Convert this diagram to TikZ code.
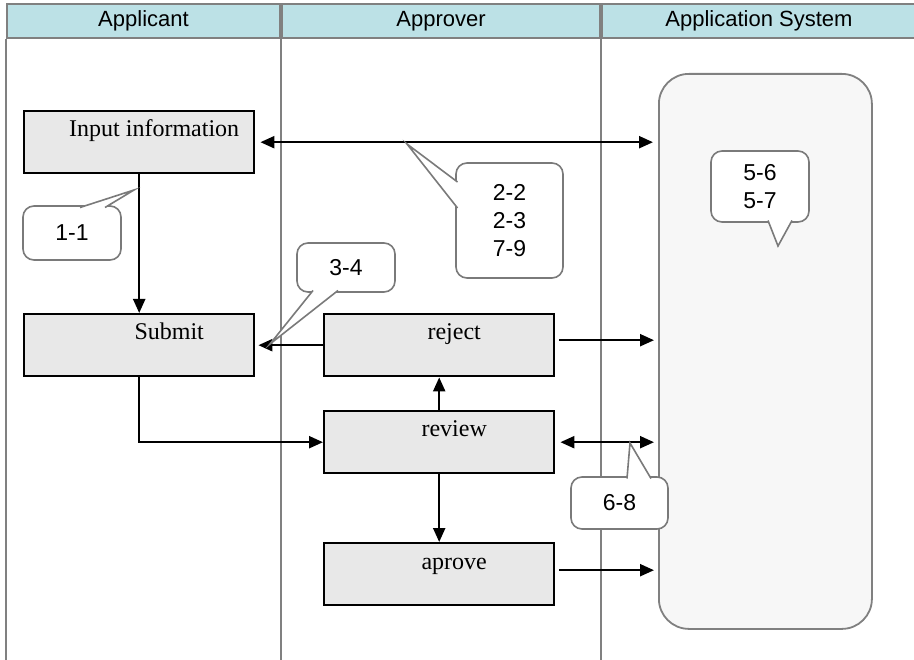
\documentclass[tikz,border=0pt]{standalone}
\usepackage{fontspec}
\setmainfont{Liberation Serif}
\setsansfont{Liberation Sans}
\usetikzlibrary{arrows.meta}
\definecolor{lanegray}{HTML}{808080}
\definecolor{headblue}{HTML}{BCE1E6}
\definecolor{taskgray}{HTML}{E8E8E8}
\definecolor{sysgray}{HTML}{F7F7F7}
\definecolor{notegray}{HTML}{7A7A7A}
\tikzset{
	lane/.style={draw=lanegray, line width=2pt},
	head/.style={lane, fill=headblue, anchor=north west, minimum height=34pt, inner sep=0pt, font=\sffamily\fontsize{22}{26}\selectfont},
	task/.style={draw=black, line width=2.4pt, fill=taskgray, anchor=north west, minimum width=230pt, minimum height=62pt, inner sep=0pt},
	tasktext/.style={anchor=base, font=\fontsize{24}{28}\selectfont},
	link/.style={-{Triangle[length=14pt,width=12pt]}, line width=2.2pt},
	twolink/.style={{Triangle[length=14pt,width=12pt]}-{Triangle[length=14pt,width=12pt]}, line width=2.2pt},
	note/.style={draw=notegray, line width=1.6pt, fill=white, rounded corners=11pt, inner sep=0pt, align=center, font=\sffamily\fontsize{23}{28}\selectfont},
	pointer/.style={draw=notegray, line width=1.6pt, fill=white}
}
\begin{document}
\begin{tikzpicture}[x=1pt, y=-1pt]
	\useasboundingbox[fill=white] (0,0) rectangle (914,660);

	\node[head, minimum width=273pt] (hApp) at (6,3) {Applicant};
	\node[head, minimum width=318pt] (hApr) at (hApp.north east) {Approver};
	\node[head, minimum width=314pt] (hSys) at (hApr.north east) {Application System};
	\draw[lane] (hApp.south west) -- ++(0,623);
	\draw[lane] (hApr.south west) -- ++(0,623);
	\draw[lane] (hSys.south west) -- ++(0,623);
	\draw[lane] (hSys.south east) -- ++(0,623);

	\node[draw=lanegray, line width=1.8pt, fill=sysgray, rounded corners=30pt, anchor=north west, minimum width=213pt, minimum height=555pt] (sys) at (658,73) {};

	\node[task, label={[tasktext, xshift=15pt, yshift=-27pt]north:Input information}] (info) at (23,110) {};
	\node[task, label={[tasktext, xshift=30pt, yshift=-27pt]north:Submit}] (submit) at (23,313) {};
	\node[task, label={[tasktext, xshift=15pt, yshift=-27pt]north:reject}] (reject) at (323,313) {};
	\node[task, label={[tasktext, xshift=15pt, yshift=-27pt]north:review}] (review) at (323,410) {};
	\node[task, label={[tasktext, xshift=15pt, yshift=-27pt]north:aprove}] (aprove) at (323,542) {};

	\draw[twolink, shorten <=5pt, shorten >=5pt] (info.east) -- (info.east -| sys.west);
	\draw[link] (info) -- (submit);
	\draw[link, shorten >=3pt] (reject.west) -- (reject.west -| submit.east);
	\draw[link, shorten <=4pt, shorten >=4pt] ([yshift=5pt]reject.east) -- ([yshift=5pt]reject.east -| sys.west);
	\draw[link] (review) -- (reject);
	\draw[link] (submit.south) |- (review.west);
	\draw[twolink, shorten <=5pt, shorten >=4pt] (review.east) -- (review.east -| sys.west);
	\draw[link] (review) -- (aprove);
	\draw[link, shorten <=4pt, shorten >=4pt] ([yshift=4pt]aprove.east) -- ([yshift=4pt]aprove.east -| sys.west);

	\node[note, minimum width=98pt, minimum height=54pt] (n11) at (72,233) {1-1};
	\coordinate (t11) at (134,190);
	\filldraw[pointer] (80,207.5) -- (t11) -- (105,207.5);

	\node[note, minimum width=107pt, minimum height=115pt] (n22) at (509.5,220.5) {2-2\\2-3\\7-9};
	\coordinate (t22) at (407,144);
	\filldraw[pointer] (457.5,182) -- (t22) -- (457.5,208);

	\node[note, minimum width=98pt, minimum height=49pt] (n34) at (346,267.5) {3-4};
	\coordinate (t34) at (270,344);
	\filldraw[pointer] (313,290.5) -- (t34) -- (338,290.5);

	\node[note, minimum width=98pt, minimum height=71pt] (n56) at (760,186.5) {5-6\\5-7};
	\coordinate (t56) at (778,246);
	\filldraw[pointer] (768,220.5) -- (t56) -- (792,220.5);

	\node[note, minimum width=97pt, minimum height=52pt] (n68) at (619.5,503) {6-8};
	\coordinate (t68) at (630,443);
	\filldraw[pointer] (627,478.5) -- (t68) -- (651,478.5);
\end{tikzpicture}
\end{document}
